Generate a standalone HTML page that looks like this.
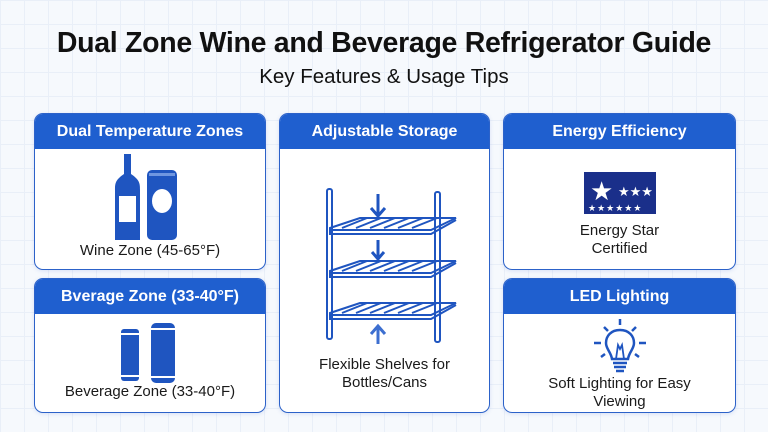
<!DOCTYPE html>
<html><head><meta charset="utf-8"><style>
body{margin:0;width:768px;height:432px;overflow:hidden;background:#f6f9fd;font-family:"Liberation Sans",sans-serif;position:relative;
background-image:linear-gradient(#e9eff8 1px,transparent 1px),linear-gradient(90deg,#e9eff8 1px,transparent 1px);background-size:24px 24px;}
.t{position:absolute;left:0;width:768px;text-align:center;color:#111}
.card{position:absolute;background:#fff;border:1.5px solid #2c62c9;border-radius:9px;overflow:hidden;box-shadow:0 1px 4px rgba(40,90,200,.15)}
.hd{background:#1f5fcf;color:#fff;font-weight:bold;font-size:16px;text-align:center;height:35px;line-height:35px}
.lb{position:absolute;left:0;right:0;text-align:center;color:#1a1a1a;font-size:15px;line-height:18px}
svg{position:absolute}
</style></head><body>
<div class="t" style="top:27px;font-size:28.5px;font-weight:bold;letter-spacing:-0.3px">Dual Zone Wine and Beverage Refrigerator Guide</div>
<div class="t" style="top:65px;font-size:20.5px">Key Features &amp; Usage Tips</div>

<div class="card" style="left:34px;top:113px;width:230px;height:155px">
<div class="hd">Dual Temperature Zones</div>
<svg style="left:78px;top:40px" width="84" height="90" viewBox="0 0 84 90">
<path d="M11 0h7v20c9 6 9 10 9 16v50h-25v-50c0-6 0-10 9-16z" fill="#1f55c0"/>
<rect x="6" y="42" width="17" height="26" fill="#fff"/>
<rect x="34" y="16" width="30" height="70" rx="5" fill="#1f55c0"/>
<ellipse cx="49" cy="47" rx="10" ry="12" fill="#fff"/>
<rect x="36" y="19" width="26" height="3" fill="#6f96e0"/>
</svg>
<div class="lb" style="top:128px">Wine Zone (45-65°F)</div>
</div>

<div class="card" style="left:34px;top:278px;width:230px;height:133px">
<div class="hd">Bverage Zone (33-40°F)</div>
<svg style="left:84px;top:44px" width="60" height="60" viewBox="0 0 60 60">
<rect x="2" y="6" width="18" height="52" rx="3" fill="#1f55c0"/><rect x="2" y="10" width="18" height="2" fill="#fff"/><rect x="2" y="52" width="18" height="2" fill="#fff"/>
<rect x="32" y="0" width="24" height="60" rx="5" fill="#1f55c0"/><rect x="32" y="5" width="24" height="2" fill="#fff"/><rect x="32" y="53" width="24" height="2" fill="#fff"/>
</svg>
<div class="lb" style="top:104px">Beverage Zone (33-40°F)</div>
</div>

<div class="card" style="left:279px;top:113px;width:209px;height:298px">
<div class="hd">Adjustable Storage</div>
<svg style="left:40px;top:70px" width="150" height="165" viewBox="0 0 150 165" fill="none" stroke="#1f55c0" stroke-width="2">
<rect x="7" y="5" width="5" height="150" rx="2"/><rect x="115" y="8" width="5" height="150" rx="2"/>
<g id="s"><path d="M10 44l30-10h96l-25 12H10z"/><path d="M10 46v4h101l25-14"/>
<path d="M22 44l25-10M36 44l25-10M50 44l25-10M64 44l25-10M78 44l25-10M92 44l25-10"/></g>
<use href="#s" y="43"/><use href="#s" y="85"/>
<path d="M58 10v22M51 24l7 8 7-8" stroke-width="3"/>
<path d="M58 56v18M52 68l6 7 6-7" stroke-width="3"/>
<path d="M58 160v-18M51 150l7-8 7 8" stroke-width="3" stroke="#3d6fd0"/>
</svg>
<div class="lb" style="top:242px">Flexible Shelves for<br>Bottles/Cans</div>
</div>

<div class="card" style="left:503px;top:113px;width:231px;height:155px">
<div class="hd">Energy Efficiency</div>
<svg style="left:80px;top:58px" width="72" height="42" viewBox="0 0 72 42">
<rect width="72" height="42" fill="#1a2f8a"/>
<text x="6" y="28" font-size="26" fill="#fff" font-family="DejaVu Sans">★</text>
<text x="34" y="24" font-size="13" fill="#fff" font-family="DejaVu Sans">★★★</text>
<text x="4" y="39" font-size="9" fill="#fff" font-family="DejaVu Sans" letter-spacing="1">★★★★★★</text>
</svg>
<div class="lb" style="top:108px">Energy Star<br>Certified</div>
</div>

<div class="card" style="left:503px;top:278px;width:231px;height:133px">
<div class="hd">LED Lighting</div>
<svg style="left:88px;top:38px" width="56" height="56" viewBox="0 0 56 56" stroke="#1f55c0" stroke-width="2.5" fill="none">
<path d="M28 2v6M12 10l4 4M44 10l-4 4M2 26h7M47 26h7M9 40l4-3M47 40l-4-3"/>
<path d="M28 13c-9 0-14 6-14 13 0 6 5 9 6 16h16c1-7 6-10 6-16 0-7-5-13-14-13z"/>
<path d="M24 42l2-14 2 4 2-4 2 14" stroke-width="1.8"/>
<path d="M21 46h14M22 50h12M24 54h8"/>
</svg>
<div class="lb" style="top:96px">Soft Lighting for Easy<br>Viewing</div>
</div>
</body></html>
